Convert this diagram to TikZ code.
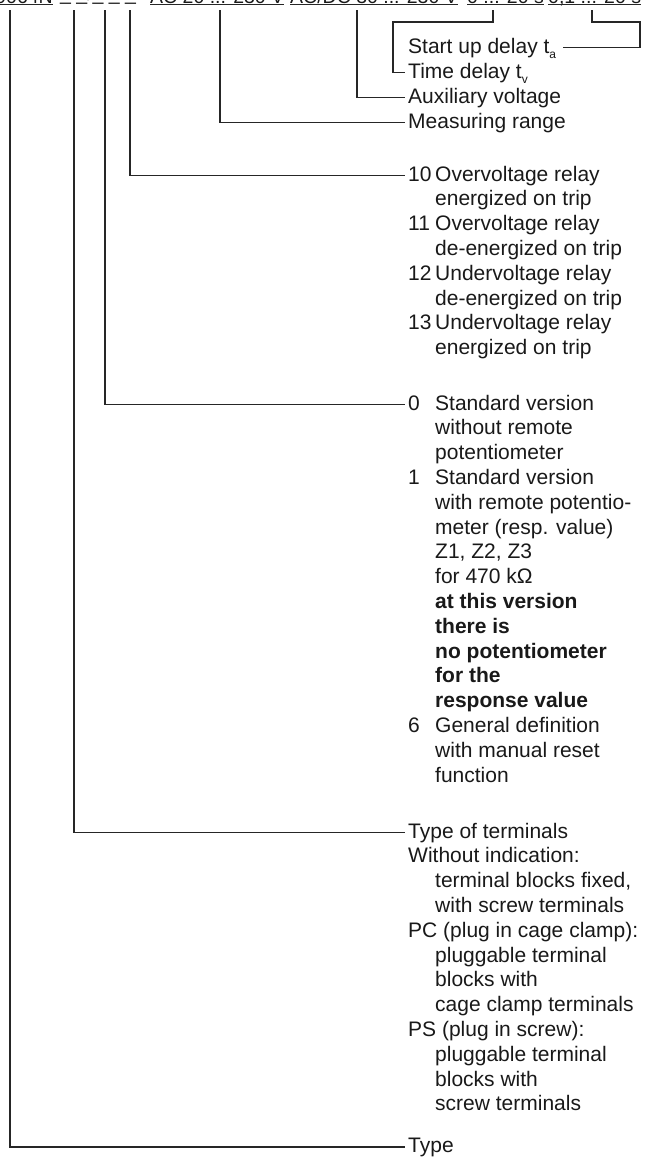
\documentclass[tikz,border=0pt]{standalone}
\usepackage{fontspec}
\setmainfont{Liberation Sans}
\usetikzlibrary{positioning}

\newcommand{\itm}[1]{\makebox[27pt][l]{#1}}
\newcommand{\ind}{\hspace*{27pt}}
\newcommand{\sub}[1]{\raisebox{-5pt}{\fontsize{12}{12}\selectfont #1}}

\begin{document}
\begin{tikzpicture}[x=1pt,y=-1pt,
    every node/.style={font=\fontsize{21}{24.8}\selectfont,text=black!90},
    line/.style={black!85,line width=1.2pt},
    uline/.style={black!85,line width=1pt},
    fld/.style={inner sep=0pt,anchor=base west,font=\fontsize{19.5}{24}\selectfont},
    lbl/.style={inner xsep=3pt,inner ysep=0pt,text height=15pt,text depth=4pt,anchor=west},
    blk/.style={inner xsep=3pt,inner ysep=0pt,anchor=north west,align=left}]
  \useasboundingbox (0,0) rectangle (645,1157);
  % order code (cut off at the top)
  \node[fld,anchor=base east] (fType) at (53,3) {MK 9064N};
  \node[fld] (fVar) at (60,0.5) {\_ \_/\_ \_ \_};
  \node[fld] (fMeas) at (150,3) {AC 20 ... 230 V};
  \node[fld] (fAux) at (290,3) {AC/DC 30 ... 230 V};
  \node[fld] (fTv) at (467,3) {0 ... 20 s};
  \node[fld] (fTa) at (548,3) {0,1 ... 20 s};
  \foreach \f in {fType,fMeas,fAux,fTv,fTa}
    \draw[uline] ([yshift=-1.6pt]\f.base west) -- ([yshift=-1.6pt]\f.base east);
  \coordinate (cType) at (10,10);
  \coordinate (cTerm) at (74,10);
  \coordinate (cVer) at (105,10);
  \coordinate (cFunc) at (130,10);
  \coordinate (cRange) at (220,10);
  \coordinate (cAux) at (357,10);
  \coordinate (cTv) at (493,10);
  \coordinate (cTa) at (592,10);
  % labels
  \node[lbl] (ta) at (405,47.5) {Start up delay t\sub{a}};
  \node[lbl] (tv) at (405,72.5) {Time delay t\sub{v}};
  \node[lbl] (aux) at (405,97.5) {Auxiliary voltage};
  \node[lbl] (range) at (405,122.5) {Measuring range};
  \node[blk] (func) at (405,163.6) {\strut\itm{10}Overvoltage relay\\
    \ind energized on trip\\
    \itm{11}Overvoltage relay\\
    \ind de-energized on trip\\
    \itm{12}Undervoltage relay\\
    \ind de-energized on trip\\
    \itm{13}Undervoltage relay\\
    \ind energized on trip};
  \node[blk] (ver) at (405,392.6) {\strut\itm{0}Standard version\\
    \ind without remote\\
    \ind potentiometer\\
    \itm{1}Standard version\\
    \ind with remote potentio-\\
    \ind meter (resp. value)\\
    \ind Z1, Z2, Z3\\
    \ind for 470 kΩ\\
    \ind\textbf{at this version}\\
    \ind\textbf{there is}\\
    \ind\textbf{no potentiometer}\\
    \ind\textbf{for the}\\
    \ind\textbf{response value}\\
    \itm{6}General definition\\
    \ind with manual reset\\
    \ind function};
  \node[blk] (term) at (405,820.6) {\strut Type of terminals\\
    Without indication:\\
    \ind terminal blocks fixed,\\
    \ind with screw terminals\\
    PC (plug in cage clamp):\\
    \ind pluggable terminal\\
    \ind blocks with\\
    \ind cage clamp terminals\\
    PS (plug in screw):\\
    \ind pluggable terminal\\
    \ind blocks with\\
    \ind screw terminals};
  \node[lbl] (type) at (405,1147) {Type};
  % connectors
  \draw[line] (cTa) -- ++(0,12) -- ++(48,0) |- ([xshift=4pt]ta.east);
  \draw[line] (cTv) -- ++(0,12) -- ++(-100,0) |- (tv.west);
  \draw[line] (cAux) |- (aux.west);
  \draw[line] (cRange) |- (range.west);
  \draw[line] (cFunc) |- ([yshift=-11.9pt]func.north west);
  \draw[line] (cVer) |- ([yshift=-11.9pt]ver.north west);
  \draw[line] (cTerm) |- ([yshift=-11.9pt]term.north west);
  \draw[line] (cType) |- (type.west);
\end{tikzpicture}
\end{document}
